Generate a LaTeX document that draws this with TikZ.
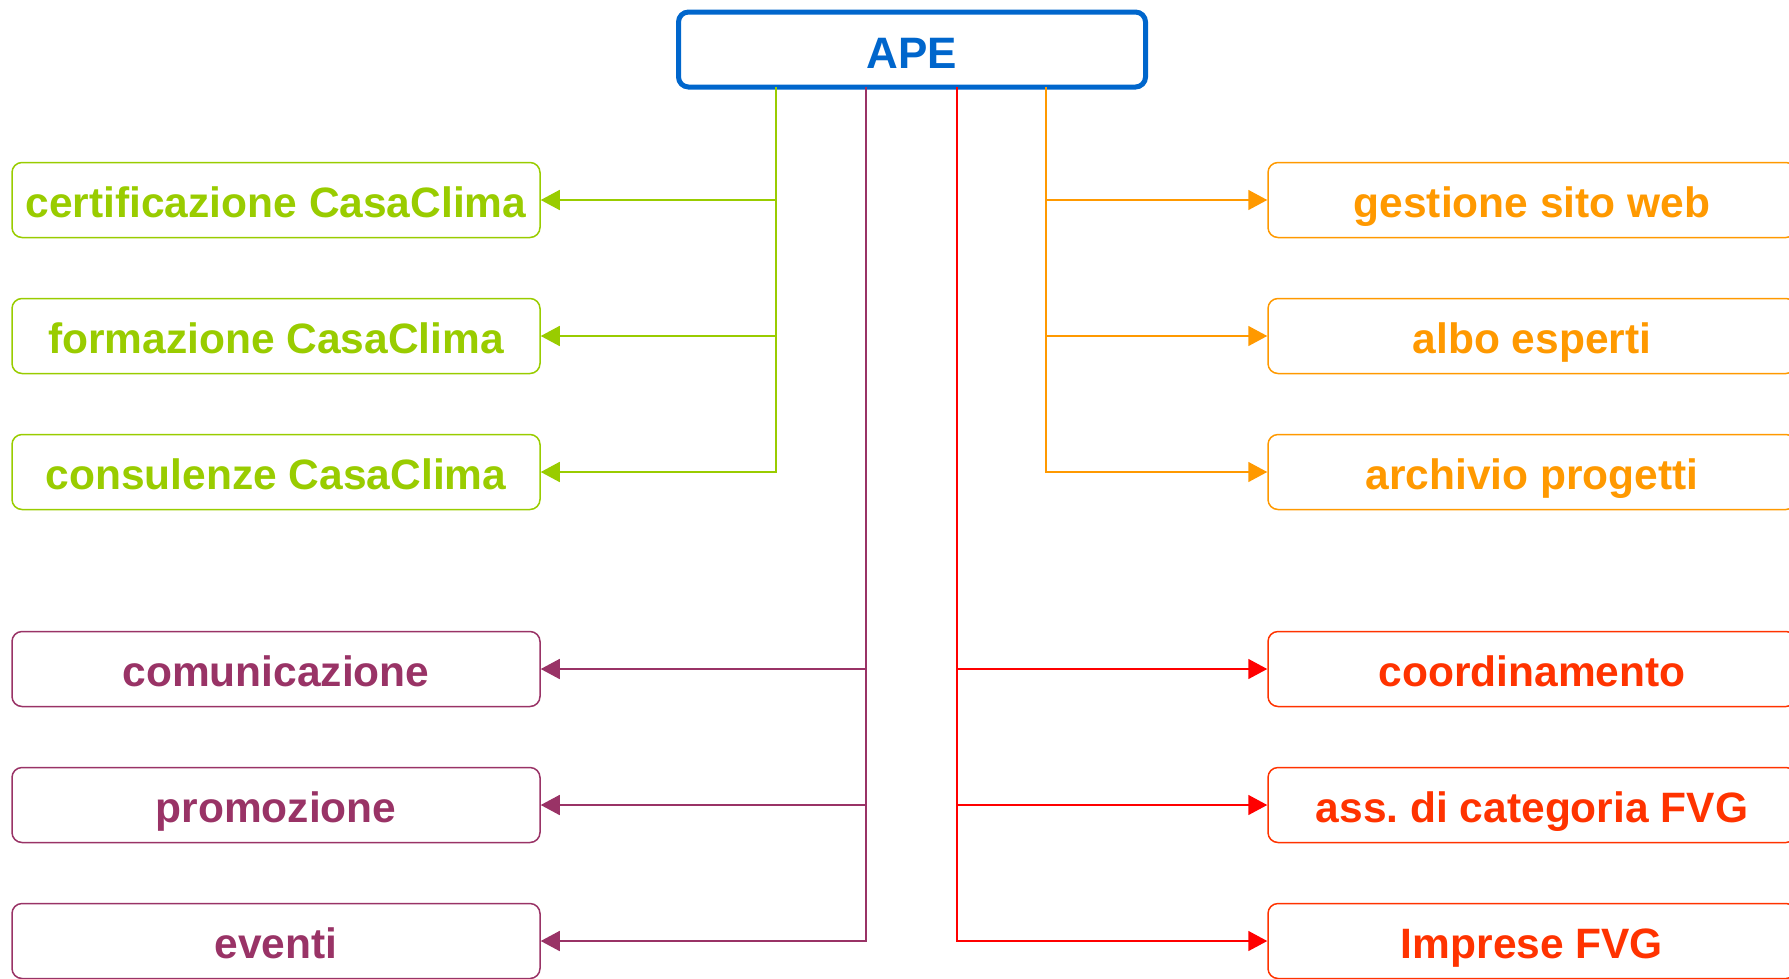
\documentclass[tikz,border=0pt]{standalone}
\usepackage{fontspec}
\setmainfont{Liberation Sans}
\usetikzlibrary{arrows.meta, positioning}
\definecolor{apeblue}{HTML}{0066CC}
\definecolor{casagreen}{HTML}{99CC00}
\definecolor{compurple}{HTML}{993366}
\definecolor{weborange}{HTML}{FF9900}
\definecolor{fvgred}{HTML}{FF3300}
\definecolor{linered}{HTML}{FF0000}
\tikzstyle{task} = [draw, rounded corners=10pt, line width=1.5pt, minimum width=528pt, minimum height=75pt,
                    text height=35pt, text depth=0pt, font=\fontsize{42.5}{42.5}\selectfont\bfseries]
\tikzstyle{link} = [line width=1.6pt, -{Triangle[length=19pt, width=20pt]}]

\begin{document}
\begin{tikzpicture}[x=1pt, y=-1pt]
				\useasboundingbox (0, 0) rectangle (1789, 978);

				\node (APE) [draw=apeblue, line width=5pt, rounded corners=10pt, minimum width=467pt,
				             minimum height=75pt, text height=38pt, text depth=0pt, text=apeblue,
				             font=\fontsize{44}{44}\selectfont\bfseries] at (912, 49.5) {APE};

				% CasaClima
				\coordinate (GreenTop) at (776, 87);
				\node (Cert) [task, draw=casagreen, text=casagreen] at (276, 200) {certificazione CasaClima};
				\node (Form) [task, draw=casagreen, text=casagreen] at (276, 336) {formazione CasaClima};
				\node (Cons) [task, draw=casagreen, text=casagreen] at (276, 472) {consulenze CasaClima};
				\draw [link, casagreen] (GreenTop) |- (Cert.east);
				\draw [link, casagreen] (GreenTop) |- (Form.east);
				\draw [link, casagreen] (GreenTop) |- (Cons.east);

				% comunicazione
				\coordinate (PurpleTop) at (866, 87);
				\node (Comm) [task, draw=compurple, text=compurple] at (276, 669) {comunicazione};
				\node (Promo) [task, draw=compurple, text=compurple] at (276, 805) {promozione};
				\node (Event) [task, draw=compurple, text=compurple] at (276, 941) {eventi};
				\draw [link, compurple] (PurpleTop) |- (Comm.east);
				\draw [link, compurple] (PurpleTop) |- (Promo.east);
				\draw [link, compurple] (PurpleTop) |- (Event.east);

				% web
				\coordinate (OrangeTop) at (1046, 87);
				\node (Web) [task, draw=weborange, text=weborange] at (1532, 200) {gestione sito web};
				\node (Albo) [task, draw=weborange, text=weborange] at (1532, 336) {albo esperti};
				\node (Arch) [task, draw=weborange, text=weborange] at (1532, 472) {archivio progetti};
				\draw [link, weborange] (OrangeTop) |- (Web.west);
				\draw [link, weborange] (OrangeTop) |- (Albo.west);
				\draw [link, weborange] (OrangeTop) |- (Arch.west);

				% FVG
				\coordinate (RedTop) at (957, 87);
				\node (Coord) [task, draw=fvgred, text=fvgred] at (1532, 669) {coordinamento};
				\node (Assoc) [task, draw=fvgred, text=fvgred] at (1532, 805) {ass.\ di categoria FVG};
				\node (Impr) [task, draw=fvgred, text=fvgred] at (1532, 941) {Imprese FVG};
				\draw [link, linered] (RedTop) |- (Coord.west);
				\draw [link, linered] (RedTop) |- (Assoc.west);
				\draw [link, linered] (RedTop) |- (Impr.west);
			\end{tikzpicture}
\end{document}
